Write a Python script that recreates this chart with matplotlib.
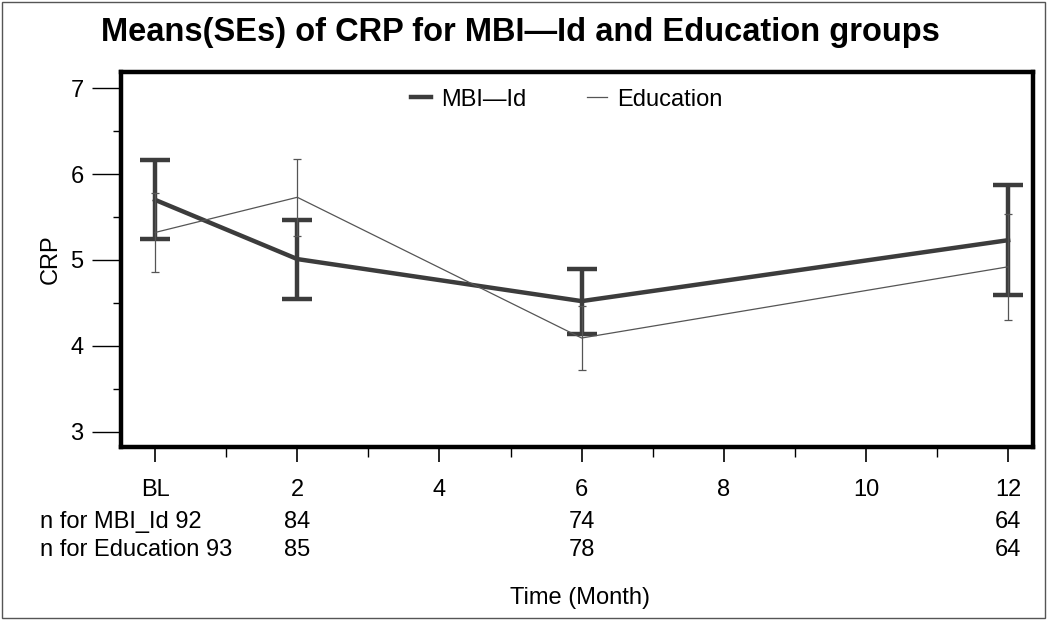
import matplotlib
matplotlib.use("Agg")
import matplotlib.pyplot as plt
from matplotlib.patches import Rectangle
from matplotlib.lines import Line2D
from matplotlib.ticker import MultipleLocator, FixedLocator

plt.rcParams['font.family'] = ['Liberation Sans', 'DejaVu Sans']

months = [0, 2, 6, 12]
mbi_mean = [5.70, 5.01, 4.52, 5.23]
mbi_se = [0.46, 0.46, 0.38, 0.64]
edu_mean = [5.32, 5.73, 4.09, 4.92]
edu_se = [0.46, 0.45, 0.37, 0.62]
xtick_vals = [0, 2, 4, 6, 8, 10, 12]
xtick_labels = ["BL", "2", "4", "6", "8", "10", "12"]
n_mbi = ["84", "74", "64"]
n_edu = ["85", "78", "64"]
n_months = [2, 6, 12]

FS = 17
fig = plt.figure(figsize=(10.5, 6.2), dpi=100)
ax = fig.add_axes([121/1050, 1-447/620, (1033-121)/1050, (447-72)/620])

dark = '#3c3c3c'
edu_c = '#555555'
ax.errorbar(months, mbi_mean, yerr=mbi_se, color=dark, lw=3.2, capsize=11,
            capthick=3.2, elinewidth=3.2, zorder=3)
ax.errorbar(months, edu_mean, yerr=edu_se, color=edu_c, lw=0.9, capsize=3,
            capthick=0.9, elinewidth=0.9, zorder=4)

ax.set_xlim(-0.48, 12.35)
ax.set_ylim(2.82, 7.19)
ax.xaxis.set_major_locator(FixedLocator(xtick_vals))
ax.set_xticklabels(xtick_labels)
ax.xaxis.set_minor_locator(MultipleLocator(1))
ax.yaxis.set_major_locator(MultipleLocator(1))
ax.yaxis.set_minor_locator(MultipleLocator(0.5))
ax.tick_params(axis='x', which='major', length=11, width=1.2, pad=12, labelsize=FS)
ax.tick_params(axis='x', which='minor', length=7, width=1.0)
ax.tick_params(axis='y', which='major', length=21, width=1.0, pad=6, labelsize=FS)
ax.tick_params(axis='y', which='minor', length=6, width=1.0)
for s in ax.spines.values():
    s.set_linewidth(3.2)

trans = ax.get_xaxis_transform()
y1 = 1 - 522/620
y2 = 1 - 550/620
fig.text(40/1050, y1, "n for MBI_Id 92", fontsize=FS, ha='left', va='center')
fig.text(40/1050, y2, "n for Education 93", fontsize=FS, ha='left', va='center')
ya1 = (522 - 447) / (447 - 72)
ya2 = (550 - 447) / (447 - 72)
for m, a, b in zip(n_months, n_mbi, n_edu):
    ax.text(m, -ya1, a, transform=trans, fontsize=FS, ha='center', va='center')
    ax.text(m, -ya2, b, transform=trans, fontsize=FS, ha='center', va='center')

ax.set_ylabel("CRP", fontsize=FS, labelpad=6)
fig.text(580/1050, 1-598/620, "Time (Month)", fontsize=FS, ha='center', va='center')
fig.text(520/1050, 1-33/620, "Means(SEs) of CRP for MBI\u2014Id and Education groups",
         fontsize=23.5, fontweight='bold', ha='center', va='center')

handles = [Line2D([], [], color=dark, lw=3.2), Line2D([], [], color=edu_c, lw=0.9)]
ax.legend(handles, ["MBI\u2014Id", "Education"], loc='upper left',
          bbox_to_anchor=((390-121)/912, 1.012), ncol=2, frameon=False, fontsize=FS,
          handlelength=0.85, columnspacing=2.6, handletextpad=0.4)

fig.add_artist(Rectangle((0.002, 0.004), 0.993, 0.992, transform=fig.transFigure,
                         fill=False, edgecolor='#555555', lw=1.0))

fig.savefig("out.png", dpi=100)
